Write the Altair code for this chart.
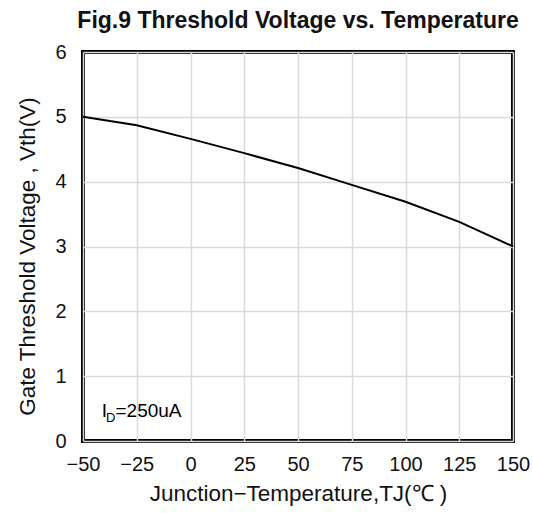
import altair as alt
import pandas as pd

temps = [-50, -25, 0, 25, 50, 75, 100, 125, 150]
vth = [5.0, 4.87, 4.66, 4.44, 4.21, 3.95, 3.69, 3.38, 3.0]

x_ticks = [-50, -25, 0, 25, 50, 75, 100, 125, 150]
y_ticks = [0, 1, 2, 3, 4, 5, 6]

df = pd.DataFrame({"T": temps, "V": vth})

font = "Liberation Sans"

xs = alt.Scale(domain=[-50, 150], nice=False, zero=False)
ys = alt.Scale(domain=[0, 6], nice=False)

line = alt.Chart(df).mark_line(color="black", strokeWidth=2).encode(
    x=alt.X("T:Q", scale=xs,
            axis=alt.Axis(values=x_ticks, format="d", title="Junction−Temperature,TJ(℃ )",
                          labelExpr="replace(datum.label, '-', '−')")),
    y=alt.Y("V:Q", scale=ys,
            axis=alt.Axis(values=y_ticks, format="d", title="Gate Threshold Voltage , Vth(V)",
                          titleY=204)),
)

ann = pd.DataFrame({"T": [-41.3], "V": [0.47], "t": ["I"]})
ann_sub = pd.DataFrame({"T": [-39.3], "V": [0.355], "t": ["D"]})
ann_rest = pd.DataFrame({"T": [-34.9], "V": [0.47], "t": ["=250uA"]})

t1 = alt.Chart(ann).mark_text(align="left", baseline="middle", font=font, fontSize=19, color="black").encode(
    x=alt.X("T:Q", scale=xs), y=alt.Y("V:Q", scale=ys), text="t:N")
t2 = alt.Chart(ann_sub).mark_text(align="left", baseline="middle", font=font, fontSize=13, color="black").encode(
    x=alt.X("T:Q", scale=xs), y=alt.Y("V:Q", scale=ys), text="t:N")
t3 = alt.Chart(ann_rest).mark_text(align="left", baseline="middle", font=font, fontSize=19, color="black").encode(
    x=alt.X("T:Q", scale=xs), y=alt.Y("V:Q", scale=ys), text="t:N")

chart = alt.layer(line, t1, t2, t3).properties(
    width=430, height=389,
    background="white",
    title=alt.Title("Fig.9 Threshold Voltage vs. Temperature", font=font, fontSize=23,
                    fontWeight="bold", color="#111", anchor="middle", offset=9),
    autosize=alt.AutoSizeParams(type="none"),
    padding={"left": 83, "top": 52, "right": 20, "bottom": 72},
).configure_view(
    stroke="black", strokeWidth=4
).configure_axis(
    grid=True, gridColor="#dadada", gridWidth=1.5,
    domain=False, ticks=False,
    labelFont=font, labelFontSize=20, labelColor="#111",
    titleFont=font, titleFontSize=22.5, titleColor="#111", titleFontWeight="normal",
).configure_axisX(
    labelPadding=13, titlePadding=8, labelFlush=False,
).configure_axisY(
    labelPadding=17, titlePadding=15,
)

chart.save("out.html", embed_options={"renderer": "svg", "actions": False})
